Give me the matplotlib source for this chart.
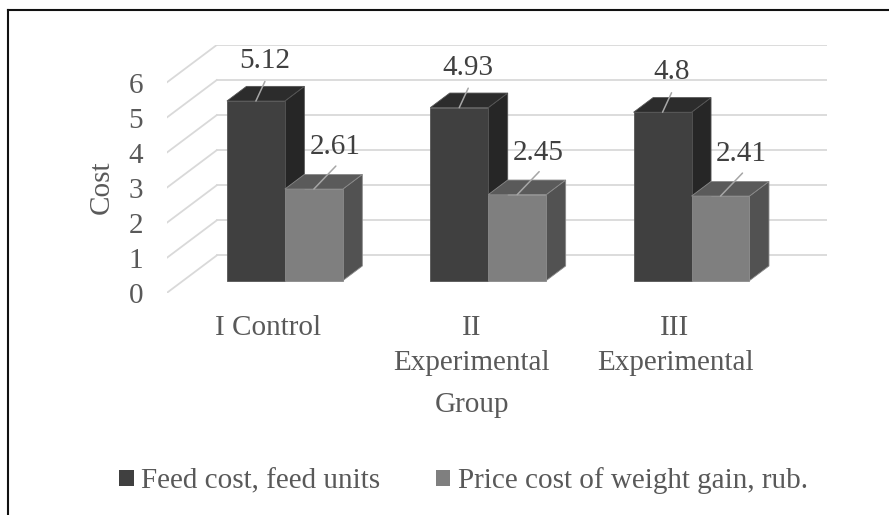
import matplotlib
matplotlib.use("Agg")
import matplotlib.pyplot as plt
from matplotlib.patches import Polygon, Patch
from matplotlib.lines import Line2D

# ---------------- data ----------------
categories = ["I Control", "II\nExperimental", "III\nExperimental"]
feed_cost = [5.12, 4.93, 4.8]
price_cost = [2.61, 2.45, 2.41]
series_names = ["Feed cost, feed units", "Price cost of weight gain, rub."]
y_ticks = [0, 1, 2, 3, 4, 5, 6]
y_label = "Cost"
x_label = "Group"

# ---------------- style ----------------
plt.rcParams["font.family"] = ["Liberation Serif", "DejaVu Serif"]
FS = 21
W, H = 889, 515
fig = plt.figure(figsize=(W / 100, H / 100), dpi=100)
fig.patch.set_facecolor("white")

# 3D-ish projection parameters (in data units)
DX = 0.246     # horizontal shift of back wall
DY = 1.07      # vertical shift of back wall
D_FRONT, D_BACK = 0.33, 0.72   # bar depth span
BAR_W = 0.285

ax = fig.add_axes([166.7 / W, (H - 293) / H, 660 / W, 248 / H])
ax.set_xlim(-0.5, len(categories) - 0.5 + DX)
ax.set_ylim(0, max(y_ticks) + DY)
for s in ax.spines.values():
    s.set_visible(False)
ax.set_facecolor("none")

grid_c = "#d9d9d9"
x0, x1 = -0.5, len(categories) - 0.5
for v in y_ticks:
    ax.plot([x0 + DX, x1 + DX], [v + DY, v + DY], color=grid_c, lw=1.3, zorder=1)
    ax.plot([x0, x0 + DX], [v, v + DY], color=grid_c, lw=1.3, zorder=1)


def bar3d(xl, xr, v, front, top, side, edge):
    f = [(xl + D_FRONT * DX, D_FRONT * DY), (xr + D_FRONT * DX, D_FRONT * DY),
         (xr + D_FRONT * DX, v + D_FRONT * DY), (xl + D_FRONT * DX, v + D_FRONT * DY)]
    t = [(xl + D_FRONT * DX, v + D_FRONT * DY), (xr + D_FRONT * DX, v + D_FRONT * DY),
         (xr + D_BACK * DX, v + D_BACK * DY), (xl + D_BACK * DX, v + D_BACK * DY)]
    sd = [(xr + D_FRONT * DX, D_FRONT * DY), (xr + D_BACK * DX, D_BACK * DY),
          (xr + D_BACK * DX, v + D_BACK * DY), (xr + D_FRONT * DX, v + D_FRONT * DY)]
    for poly, c in ((sd, side), (t, top), (f, front)):
        ax.add_patch(Polygon(poly, closed=True, facecolor=c, edgecolor=edge,
                             lw=0.6, zorder=3))
    return ((xl + xr) / 2 + D_FRONT * DX, v + D_FRONT * DY)


styles = [
    dict(front="#404040", top="#2c2c2c", side="#262626", edge="#555555",
         lead=(9, 19.5), text=(9, 40)),
    dict(front="#7f7f7f", top="#5a5a5a", side="#525252", edge="#8a8a8a",
         lead=(22, 23), text=(21, 42)),
]

for i in range(len(categories)):
    for k, (vals, st) in enumerate(((feed_cost, styles[0]), (price_cost, styles[1]))):
        v = vals[i]
        xl = i - BAR_W if k == 0 else i
        xr = i if k == 0 else i + BAR_W
        px, py = bar3d(xl, xr, v, st["front"], st["top"], st["side"], st["edge"])
        ax.annotate("", xy=(px, py), xycoords="data", xytext=st["lead"],
                    textcoords="offset pixels",
                    arrowprops=dict(arrowstyle="-", color="#a6a6a6", lw=1.1,
                                    shrinkA=0, shrinkB=0), zorder=4)
        ax.annotate(f"{v:g}", xy=(px, py), xycoords="data", xytext=st["text"],
                    textcoords="offset pixels", ha="center", va="center",
                    fontsize=FS, color="#404040", zorder=5)

ax.set_yticks(y_ticks)
ax.set_yticklabels([str(t) for t in y_ticks])
ax.set_xticks(range(len(categories)))
ax.set_xticklabels(categories, linespacing=1.45)
ax.tick_params(axis="y", length=0, pad=17, labelsize=FS, labelcolor="#595959")
ax.tick_params(axis="x", length=0, pad=16, labelsize=FS, labelcolor="#595959")

fig.text(102 / W, 1 - 187 / H, y_label, rotation=90, ha="center", va="center",
         fontsize=FS, color="#595959")
fig.text(472 / W, 1 - 405 / H, x_label, ha="center", va="center",
         fontsize=FS, color="#595959")

handles = [Patch(facecolor=styles[0]["front"], edgecolor="none"),
           Patch(facecolor=styles[1]["front"], edgecolor="none")]
fig.legend(handles=handles, labels=series_names, loc="center",
           bbox_to_anchor=(463.5 / W, 1 - 481 / H), ncol=2, frameon=False,
           fontsize=FS, labelcolor="#595959", handlelength=0.5,
           handleheight=0.5, handletextpad=0.25, columnspacing=1.9)

# outer frame (left and top edges visible)
fig.add_artist(Line2D([8.3 / W, 8.3 / W], [0, 1 - 10 / H], color="#111111",
                      lw=1.5, transform=fig.transFigure))
fig.add_artist(Line2D([8.3 / W, 1], [1 - 10 / H, 1 - 10 / H], color="#111111",
                      lw=1.5, transform=fig.transFigure))

fig.savefig("out.png", dpi=100)
